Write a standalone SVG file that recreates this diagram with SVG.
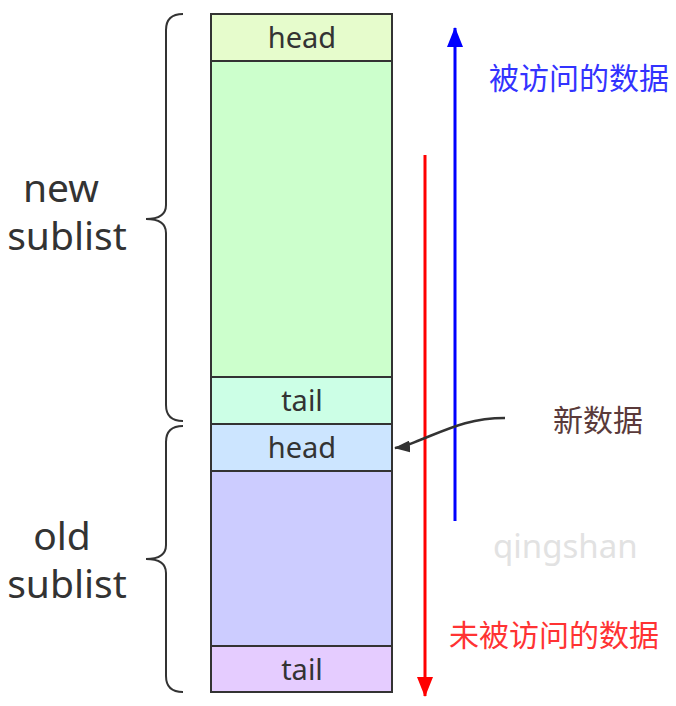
<svg xmlns="http://www.w3.org/2000/svg" width="676" height="706" viewBox="0 0 676 706">
<style>
.cell{stroke:#333;stroke-width:2}
.lbl{font-family:"Noto Sans","Open Sans","Noto Sans CJK SC",sans-serif;font-size:29px;fill:#333;text-anchor:middle}
.side{font-family:"Noto Sans","Open Sans",sans-serif;font-size:39px;fill:#333;text-anchor:middle}
.brace{fill:none;stroke:#333;stroke-width:2}
.cjk{font-family:"Noto Sans CJK SC",sans-serif;font-size:30px}
</style>
<defs>
<marker id="ab" viewBox="0 0 20 16" refX="19" refY="8" markerWidth="21" markerHeight="16" markerUnits="userSpaceOnUse" orient="auto"><path d="M0,0 L20,8 L0,16 z" fill="#0000ff"/></marker>
<marker id="ar" viewBox="0 0 20 16" refX="19" refY="8" markerWidth="21" markerHeight="16" markerUnits="userSpaceOnUse" orient="auto"><path d="M0,0 L20,8 L0,16 z" fill="#ff0000"/></marker>
<marker id="ak" viewBox="0 0 16 12" refX="15" refY="6" markerWidth="16" markerHeight="12" markerUnits="userSpaceOnUse" orient="auto"><path d="M0,0 L16,6 L0,12 z" fill="#333"/></marker>
</defs>
<rect width="676" height="706" fill="#fff"/>
<g id="head1"><rect class="cell" x="211" y="14" width="181" height="47" fill="#e6fccc"/><text class="lbl" x="302" y="48">head</text></g>
<g id="newbody"><rect class="cell" x="211" y="61" width="181" height="316" fill="#ccffcc"/></g>
<g id="tail1"><rect class="cell" x="211" y="377" width="181" height="47" fill="#ccffe6"/><text class="lbl" x="302" y="411">tail</text></g>
<g id="head2"><rect class="cell" x="211" y="424" width="181" height="47" fill="#cce5ff"/><text class="lbl" x="302" y="458">head</text></g>
<g id="oldbody"><rect class="cell" x="211" y="471" width="181" height="175" fill="#ccccff"/></g>
<g id="tail2"><rect class="cell" x="211" y="646" width="181" height="46" fill="#e5ccff"/><text class="lbl" x="302" y="680">tail</text></g>
<g id="newbrace"><path class="brace" d="M183,14 Q166,14 166,30 L166,205 Q166,219 146,219 Q166,219 166,233 L166,405 Q166,421 183,421"/><text class="side" x="61" y="202">new</text><text class="side" x="67" y="250">sublist</text></g>
<g id="oldbrace"><path class="brace" d="M183,426 Q166,426 166,442 L166,545 Q166,559 146,559 Q166,559 166,573 L166,676 Q166,692 183,692"/><text class="side" x="62" y="550">old</text><text class="side" x="67" y="598">sublist</text></g>
<g id="connectors">
<line x1="455" y1="521" x2="455" y2="28" stroke="#0000ff" stroke-width="3" marker-end="url(#ab)"/>
<line x1="425" y1="155" x2="425" y2="696" stroke="#ff0000" stroke-width="3" marker-end="url(#ar)"/>
<path d="M505,418 C470,418 450,428 420,440 C410,444 405,447 395,448" fill="none" stroke="#333" stroke-width="2.5" marker-end="url(#ak)"/>
</g>
<g id="labels">
<text class="cjk" x="489" y="89" fill="#3333ff">被访问的数据</text>
<text class="cjk" x="449" y="646" fill="#ff3333">未被访问的数据</text>
<text class="cjk" x="553" y="431" fill="#5a3a3a">新数据</text>
<text x="493" y="558" font-family="Noto Sans,Open Sans,sans-serif" font-size="33" fill="#e2e2e2">qingshan</text>
</g>
</svg>
